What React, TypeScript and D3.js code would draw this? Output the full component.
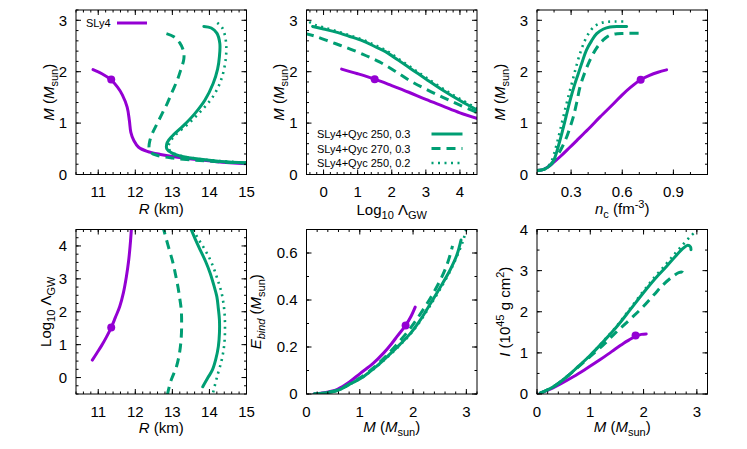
import React from 'react';
import * as d3 from 'd3';

type Pt = [number, number];

const PURPLE = '#9400d3';
const GREEN = '#009e73';

// ---------- Panel 1: M vs R ----------
const mrSly4: Pt[] = [[10.86,2.04],[11.1,1.96],[11.33,1.85],[11.52,1.7],[11.65,1.55],[11.78,1.31],[11.84,1.05],[11.88,0.82],[11.96,0.66],[12.09,0.53],[12.32,0.45],[12.68,0.39],[13.4,0.31],[14.2,0.25],[15.05,0.21]];
const mrQyc250_03: Pt[] = [[13.85,2.88],[14.05,2.85],[14.2,2.75],[14.28,2.55],[14.27,2.3],[14.22,2.05],[14.1,1.77],[13.88,1.45],[13.6,1.18],[13.3,0.95],[13.0,0.75],[12.86,0.62],[12.85,0.5],[12.98,0.42],[13.2,0.36],[13.6,0.31],[14.3,0.255],[15.05,0.225]];
const mrQyc270_03: Pt[] = [[12.84,2.74],[13.04,2.68],[13.2,2.56],[13.3,2.4],[13.31,2.25],[13.22,2.02],[13.13,1.83],[12.99,1.6],[12.86,1.38],[12.72,1.18],[12.59,0.99],[12.46,0.8],[12.39,0.65],[12.37,0.53],[12.42,0.43],[12.6,0.37],[13.0,0.32],[13.6,0.28],[14.3,0.245],[15.05,0.22]];
const mrQyc250_02: Pt[] = [[14.21,2.95],[14.32,2.88],[14.39,2.78],[14.45,2.55],[14.44,2.25],[14.32,1.85],[14.1,1.52],[13.78,1.24],[13.45,1.0],[13.1,0.78],[12.93,0.63],[12.9,0.5],[13.02,0.42],[13.25,0.36],[13.65,0.31],[14.3,0.26],[15.05,0.23]];
const mrMarker: Pt = [11.35, 1.85];

// ---------- Panel 2: M vs Log10 Lambda ----------
const lmSly4: Pt[] = [[0.53,2.05],[1.0,1.96],[1.5,1.855],[2.0,1.73],[2.5,1.6],[3.0,1.46],[3.5,1.33],[4.0,1.2],[4.6,1.07]];
const lmQyc250_03: Pt[] = [[-0.32,2.88],[0.0,2.83],[0.37,2.77],[0.75,2.69],[1.15,2.6],[1.5,2.49],[1.84,2.38],[2.2,2.22],[2.62,2.03],[3.0,1.86],[3.5,1.64],[4.0,1.44],[4.6,1.22]];
const lmQyc270_03: Pt[] = [[-0.55,2.745],[-0.2,2.68],[0.17,2.59],[0.5,2.51],[0.86,2.42],[1.25,2.31],[1.64,2.19],[2.1,2.01],[2.52,1.83],[3.0,1.66],[3.5,1.5],[4.0,1.35],[4.6,1.18]];
const lmQyc250_02: Pt[] = [[-0.42,2.97],[-0.25,2.91],[0.0,2.86],[0.37,2.79],[0.75,2.71],[1.15,2.62],[1.5,2.52],[1.84,2.41],[2.2,2.25],[2.62,2.06],[3.0,1.89],[3.5,1.67],[4.0,1.47],[4.6,1.25]];
const lmMarker: Pt = [1.5, 1.855];

// ---------- Panel 3: M vs n_c ----------
const nmSly4: Pt[] = [[0.1,0.08],[0.13,0.09],[0.157,0.13],[0.196,0.23],[0.24,0.36],[0.29,0.52],[0.333,0.66],[0.4,0.88],[0.47,1.12],[0.55,1.38],[0.6,1.55],[0.65,1.7],[0.708,1.845],[0.76,1.93],[0.81,1.99],[0.86,2.035]];
const nmQyc250_03: Pt[] = [[0.1,0.08],[0.13,0.09],[0.163,0.14],[0.19,0.22],[0.206,0.34],[0.225,0.55],[0.245,0.79],[0.27,1.12],[0.294,1.44],[0.318,1.72],[0.342,1.96],[0.366,2.2],[0.39,2.42],[0.42,2.6],[0.45,2.74],[0.49,2.83],[0.528,2.87],[0.58,2.88],[0.626,2.88]];
const nmQyc270_03: Pt[] = [[0.1,0.08],[0.13,0.09],[0.163,0.14],[0.2,0.28],[0.225,0.4],[0.25,0.55],[0.274,0.73],[0.295,0.93],[0.313,1.12],[0.333,1.4],[0.352,1.7],[0.38,1.98],[0.41,2.22],[0.44,2.41],[0.47,2.55],[0.5,2.65],[0.528,2.71],[0.57,2.74],[0.606,2.745],[0.714,2.745]];
const nmQyc250_02: Pt[] = [[0.1,0.08],[0.13,0.09],[0.16,0.14],[0.185,0.26],[0.2,0.4],[0.218,0.62],[0.237,0.88],[0.26,1.2],[0.284,1.52],[0.308,1.82],[0.33,2.1],[0.355,2.38],[0.38,2.6],[0.41,2.78],[0.44,2.89],[0.47,2.94],[0.51,2.97],[0.56,2.975],[0.615,2.975]];
const nmMarker: Pt = [0.708, 1.845];

// ---------- Panel 4: Log10 Lambda vs R ----------
const rlSly4: Pt[] = [[10.84,0.53],[10.96,0.74],[11.09,0.97],[11.22,1.23],[11.35,1.52],[11.46,1.82],[11.58,2.16],[11.68,2.58],[11.76,3.07],[11.82,3.55],[11.86,4.0],[11.9,4.6]];
const rlQyc250_03: Pt[] = [[13.82,-0.28],[13.96,0.0],[14.08,0.23],[14.17,0.55],[14.24,0.94],[14.27,1.35],[14.27,1.75],[14.24,2.1],[14.2,2.46],[14.12,2.8],[14.02,3.17],[13.9,3.52],[13.75,3.88],[13.62,4.2],[13.47,4.6]];
const rlQyc270_03: Pt[] = [[12.86,-0.55],[12.96,-0.1],[13.11,0.33],[13.2,0.8],[13.24,1.24],[13.25,1.65],[13.24,2.05],[13.2,2.4],[13.15,2.76],[13.09,3.1],[13.02,3.47],[12.9,3.95],[12.74,4.6]];
const rlQyc250_02: Pt[] = [[14.1,-0.45],[14.2,0.0],[14.33,0.53],[14.4,1.0],[14.42,1.55],[14.4,2.05],[14.33,2.56],[14.22,2.98],[14.1,3.37],[13.97,3.7],[13.83,3.98],[13.68,4.25],[13.52,4.6]];
const rlMarker: Pt = [11.35, 1.52];

// ---------- Panel 5: E_bind vs M ----------
const meSly4: Pt[] = [[0.14,0.0],[0.3,0.004],[0.58,0.02],[0.8,0.05],[1.01,0.088],[1.25,0.13],[1.45,0.175],[1.6,0.215],[1.7,0.245],[1.86,0.292],[1.96,0.33],[2.04,0.37]];
const meQyc250_03: Pt[] = [[0.14,0.0],[0.3,0.003],[0.58,0.015],[0.8,0.04],[1.08,0.076],[1.3,0.115],[1.51,0.158],[1.75,0.21],[1.95,0.258],[2.15,0.32],[2.33,0.386],[2.5,0.45],[2.7,0.53],[2.82,0.59],[2.9,0.655]];
const meQyc270_03: Pt[] = [[0.14,0.0],[0.3,0.003],[0.58,0.016],[0.8,0.042],[1.08,0.08],[1.3,0.12],[1.51,0.165],[1.75,0.225],[1.95,0.28],[2.15,0.345],[2.33,0.41],[2.5,0.48],[2.62,0.54],[2.7,0.595],[2.74,0.63]];
const meQyc250_02: Pt[] = [[0.14,0.0],[0.3,0.003],[0.58,0.015],[0.8,0.04],[1.08,0.075],[1.3,0.113],[1.51,0.155],[1.75,0.207],[1.95,0.255],[2.15,0.315],[2.33,0.38],[2.5,0.443],[2.7,0.525],[2.85,0.6],[2.95,0.66],[3.0,0.705]];
const meMarker: Pt = [1.86, 0.292];

// ---------- Panel 6: I vs M ----------
const miSly4: Pt[] = [[0.06,0.02],[0.3,0.15],[0.68,0.42],[0.93,0.62],[1.18,0.83],[1.4,1.03],[1.62,1.23],[1.75,1.33],[1.86,1.41],[1.96,1.45],[2.05,1.46]];
const miQyc250_03: Pt[] = [[0.06,0.02],[0.3,0.17],[0.56,0.42],[0.75,0.64],[0.99,0.93],[1.25,1.28],[1.5,1.64],[1.75,2.05],[1.99,2.45],[2.2,2.78],[2.43,3.1],[2.6,3.35],[2.74,3.54],[2.83,3.62],[2.88,3.58],[2.89,3.51]];
const miQyc270_03: Pt[] = [[0.06,0.02],[0.3,0.17],[0.56,0.42],[0.75,0.63],[0.99,0.9],[1.25,1.2],[1.5,1.52],[1.75,1.82],[1.99,2.12],[2.2,2.42],[2.37,2.66],[2.55,2.86],[2.66,2.95],[2.73,2.96],[2.77,2.88]];
const miQyc250_02: Pt[] = [[0.06,0.02],[0.3,0.17],[0.56,0.42],[0.75,0.64],[0.99,0.93],[1.25,1.29],[1.5,1.66],[1.75,2.08],[1.99,2.49],[2.2,2.83],[2.43,3.17],[2.6,3.43],[2.75,3.65],[2.87,3.82],[2.95,3.92]];
const miMarker: Pt = [1.85, 1.42];

// ---------- Axes ----------
const rTicks = [11, 12, 13, 14, 15];
const mTicks = [0, 1, 2, 3];
const logTicks = [0, 1, 2, 3, 4];
const ncTicks = [0.3, 0.6, 0.9];
const ebTicks = [0, 0.2, 0.4, 0.6];
const iTicks = [0, 1, 2, 3, 4];
const msunTicks = [0, 1, 2, 3];

const legendLabels = ['SLy4+Qyc 250, 0.3', 'SLy4+Qyc 270, 0.3', 'SLy4+Qyc 250, 0.2'];

// label segments: [text, style]  style: n normal, i italic, s sub, si italic sub, p sup
type Seg = [string, 'n' | 'i' | 's' | 'si' | 'p'];
const msunLabel: Seg[] = [['M', 'i'], [' (', 'n'], ['M', 'i'], ['sun', 's'], [')', 'n']];
const rLabel: Seg[] = [['R', 'i'], [' (km)', 'n']];
const logLabel: Seg[] = [['Log', 'n'], ['10', 's'], [' \u039b', 'n'], ['GW', 's']];
const ncLabel: Seg[] = [['n', 'i'], ['c', 's'], [' (fm', 'n'], ['-3', 'p'], [')', 'n']];
const ebLabel: Seg[] = [['E', 'i'], ['bind', 'si'], [' (', 'n'], ['M', 'i'], ['sun', 's'], [')', 'n']];
const iLabel: Seg[] = [['I', 'i'], [' (10', 'n'], ['45', 'p'], [' g cm', 'n'], ['2', 'p'], [')', 'n']];

const FONT = "'Liberation Sans', Arial, Helvetica, sans-serif";
const W = 170.5;
const H = 164.5;
const COLS = [76, 306.5, 537];
const ROWS = [10, 229.5];

const SOLID = { color: GREEN, dash: undefined as string | undefined, width: 3 };
const DASHED = { color: GREEN, dash: '9,6', width: 3 };
const DOTTED = { color: GREEN, dash: '2,4.5', width: 2.6 };
const PURP = { color: PURPLE, dash: undefined as string | undefined, width: 3 };

function renderLabel(segs: Seg[]) {
  let shift = 0;
  return segs.map(([t, s], i) => {
    const target = s === 's' || s === 'si' ? 4 : s === 'p' ? -6 : 0;
    const dy = target - shift;
    shift = target;
    const small = s === 's' || s === 'si' || s === 'p';
    const ital = s === 'i' || s === 'si';
    return (
      <tspan key={i} dy={dy === 0 ? undefined : dy} fontSize={small ? 11 : undefined}
        fontStyle={ital ? 'italic' : undefined} style={{ whiteSpace: 'pre' }}>{t}</tspan>
    );
  });
}

interface PanelDef {
  col: number; row: number;
  xDomain: [number, number]; yDomain: [number, number];
  xTicks: number[]; yTicks: number[]; xMinor: number; yMinor: number;
  purple: Pt[]; solid: Pt[]; dashed: Pt[]; dotted: Pt[]; marker: Pt;
  xLabel: Seg[]; yLabel: Seg[]; yLabelOff: number; xLabelOff: number;
  legend?: 'sly4' | 'qyc';
}

const panels: PanelDef[] = [
  { col: 0, row: 0, xDomain: [10.4, 15], yDomain: [0, 3.2], xTicks: rTicks, yTicks: mTicks, xMinor: 0.2, yMinor: 0.2,
    purple: mrSly4, solid: mrQyc250_03, dashed: mrQyc270_03, dotted: mrQyc250_02, marker: mrMarker,
    xLabel: rLabel, yLabel: msunLabel, yLabelOff: 22, xLabelOff: 39, legend: 'sly4' },
  { col: 1, row: 0, xDomain: [-0.5, 4.5], yDomain: [0, 3.2], xTicks: logTicks, yTicks: mTicks, xMinor: 0.2, yMinor: 0.2,
    purple: lmSly4, solid: lmQyc250_03, dashed: lmQyc270_03, dotted: lmQyc250_02, marker: lmMarker,
    xLabel: logLabel, yLabel: msunLabel, yLabelOff: 23, xLabelOff: 40, legend: 'qyc' },
  { col: 2, row: 0, xDomain: [0.1, 1.1], yDomain: [0, 3.2], xTicks: ncTicks, yTicks: mTicks, xMinor: 0.1, yMinor: 0.2,
    purple: nmSly4, solid: nmQyc250_03, dashed: nmQyc270_03, dotted: nmQyc250_02, marker: nmMarker,
    xLabel: ncLabel, yLabel: msunLabel, yLabelOff: 32, xLabelOff: 39.5 },
  { col: 0, row: 1, xDomain: [10.4, 15], yDomain: [-0.5, 4.5], xTicks: rTicks, yTicks: logTicks, xMinor: 0.2, yMinor: 0.25,
    purple: rlSly4, solid: rlQyc250_03, dashed: rlQyc270_03, dotted: rlQyc250_02, marker: rlMarker,
    xLabel: rLabel, yLabel: logLabel, yLabelOff: 25, xLabelOff: 38.5 },
  { col: 1, row: 1, xDomain: [0, 3.2], yDomain: [0, 0.7], xTicks: msunTicks, yTicks: ebTicks, xMinor: 0.2, yMinor: 0.1,
    purple: meSly4, solid: meQyc250_03, dashed: meQyc270_03, dotted: meQyc250_02, marker: meMarker,
    xLabel: msunLabel, yLabel: ebLabel, yLabelOff: 46, xLabelOff: 38 },
  { col: 2, row: 1, xDomain: [0, 3.2], yDomain: [0, 4], xTicks: msunTicks, yTicks: iTicks, xMinor: 0.2, yMinor: 0.5,
    purple: miSly4, solid: miQyc250_03, dashed: miQyc270_03, dotted: miQyc250_02, marker: miMarker,
    xLabel: msunLabel, yLabel: iLabel, yLabelOff: 27, xLabelOff: 38 },
];

function minorTicks(domain: [number, number], step: number): number[] {
  const out: number[] = [];
  const start = Math.ceil(domain[0] / step - 1e-6) * step;
  for (let v = start; v <= domain[1] + 1e-6; v += step) out.push(+v.toFixed(6));
  return out;
}

function PanelView({ p, idx }: { p: PanelDef; idx: number }) {
  const x0 = COLS[p.col];
  const y0 = ROWS[p.row];
  const xs = d3.scaleLinear().domain(p.xDomain).range([x0, x0 + W]);
  const ys = d3.scaleLinear().domain(p.yDomain).range([y0 + H, y0]);
  const line = d3.line<Pt>().x(d => xs(d[0])).y(d => ys(d[1])).curve(d3.curveCatmullRom.alpha(0.5));
  const clipId = `clip${idx}`;
  const styles = [
    { data: p.purple, ...PURP },
    { data: p.dashed, ...DASHED },
    { data: p.dotted, ...DOTTED },
    { data: p.solid, ...SOLID },
  ];
  const major = 5, minor = 2.5;
  const xMinorTicks = minorTicks(p.xDomain, p.xMinor);
  const yMinorTicks = minorTicks(p.yDomain, p.yMinor);
  return (
    <g>
      <defs>
        <clipPath id={clipId}>
          <rect x={x0} y={y0} width={W} height={H} />
        </clipPath>
      </defs>
      <g clipPath={`url(#${clipId})`}>
        {styles.map((s, i) => (
          <path key={i} d={line(s.data) || ''} fill="none" stroke={s.color} strokeWidth={s.width}
            strokeDasharray={s.dash} strokeLinecap={s.dash ? 'butt' : 'round'} strokeLinejoin="round" />
        ))}
        <circle cx={xs(p.marker[0])} cy={ys(p.marker[1])} r={4} fill={PURPLE} />
      </g>
      <g stroke="#000" strokeWidth={1}>
        {xMinorTicks.map((v, i) => (
          <g key={'xm' + i}>
            <line x1={xs(v)} x2={xs(v)} y1={y0 + H} y2={y0 + H - minor} />
            <line x1={xs(v)} x2={xs(v)} y1={y0} y2={y0 + minor} />
          </g>
        ))}
        {p.xTicks.map((v, i) => (
          <g key={'xM' + i}>
            <line x1={xs(v)} x2={xs(v)} y1={y0 + H} y2={y0 + H - major} />
            <line x1={xs(v)} x2={xs(v)} y1={y0} y2={y0 + major} />
          </g>
        ))}
        {yMinorTicks.map((v, i) => (
          <g key={'ym' + i}>
            <line x1={x0} x2={x0 + minor} y1={ys(v)} y2={ys(v)} />
            <line x1={x0 + W} x2={x0 + W - minor} y1={ys(v)} y2={ys(v)} />
          </g>
        ))}
        {p.yTicks.map((v, i) => (
          <g key={'yM' + i}>
            <line x1={x0} x2={x0 + major} y1={ys(v)} y2={ys(v)} />
            <line x1={x0 + W} x2={x0 + W - major} y1={ys(v)} y2={ys(v)} />
          </g>
        ))}
      </g>
      <rect x={x0} y={y0} width={W} height={H} fill="none" stroke="#000" strokeWidth={1} />
      <g fontFamily={FONT} fontSize={15} fill="#000">
        {p.xTicks.map((v, i) => (
          <text key={'xl' + i} x={xs(v)} y={y0 + H + 22.5} textAnchor="middle">{String(v)}</text>
        ))}
        {p.yTicks.map((v, i) => (
          <text key={'yl' + i} x={x0 - 9} y={ys(v) + 5.3} textAnchor="end">{String(v)}</text>
        ))}
        <text x={x0 + W / 2} y={y0 + H + p.xLabelOff} textAnchor="middle">{renderLabel(p.xLabel)}</text>
        <text transform={`translate(${x0 - p.yLabelOff},${y0 + H / 2}) rotate(-90)`} textAnchor="middle">{renderLabel(p.yLabel)}</text>
      </g>
      {p.legend === 'sly4' && (
        <g fontFamily={FONT} fontSize={11}>
          <text x={86} y={y0 + 17}>SLy4</text>
          <line x1={117} x2={147} y1={y0 + 13} y2={y0 + 13} stroke={PURPLE} strokeWidth={3} />
        </g>
      )}
      {p.legend === 'qyc' && (
        <g fontFamily={FONT} fontSize={11}>
          {[SOLID, DASHED, DOTTED].map((s, i) => (
            <g key={i}>
              <text x={x0 + 10.5} y={y0 + 128 + i * 14.5}>{legendLabels[i]}</text>
              <line x1={x0 + 125} x2={x0 + 156} y1={y0 + 124 + i * 14.5} y2={y0 + 124 + i * 14.5}
                stroke={s.color} strokeWidth={s.width} strokeDasharray={s.dash} />
            </g>
          ))}
        </g>
      )}
    </g>
  );
}

export default function App() {
  return (
    <svg width={747} height={449} viewBox="0 0 747 449" style={{ display: 'block', position: 'absolute', left: 0, top: 0, background: '#fff' }}>
      <rect x={0} y={0} width={747} height={449} fill="#fff" />
      {panels.map((p, i) => <PanelView key={i} p={p} idx={i} />)}
    </svg>
  );
}
